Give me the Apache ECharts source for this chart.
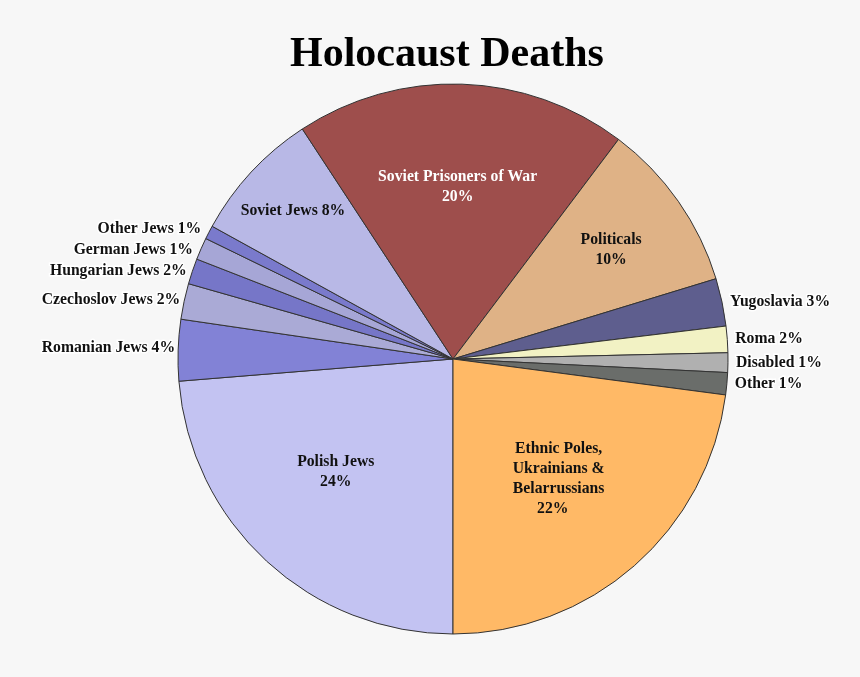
<!DOCTYPE html>
<html>
<head>
<meta charset="utf-8">
<script src="https://cdn.jsdelivr.net/npm/echarts@6/dist/echarts.min.js"></script>
<style>
html,body{margin:0;padding:0;background:#f7f7f7;}
#chart{width:860px;height:677px;}
</style>
</head>
<body>
<div id="chart"></div>
<script>
// ---- data ----
const categories = ['Polish Jews', 'Romanian Jews', 'Czechoslov Jews', 'Hungarian Jews', 'German Jews', 'Other Jews',
  'Soviet Jews', 'Soviet Prisoners of War', 'Politicals', 'Yugoslavia', 'Roma', 'Disabled', 'Other',
  'Ethnic Poles, Ukrainians & Belarrussians'];
const shares = [23.7, 3.6, 2.1, 1.5, 1.3, 0.8, 7.75, 19.5, 10.0, 2.8, 1.55, 1.15, 1.3, 22.9];
const percentLabels = ['24%', '4%', '2%', '2%', '1%', '1%', '8%', '20%', '10%', '3%', '2%', '1%', '1%', '22%'];
const labelTexts = ['Polish Jews\n24%', 'Romanian Jews 4%', 'Czechoslov Jews 2%', 'Hungarian Jews 2%', 'German Jews 1%',
  'Other Jews 1%', 'Soviet Jews 8%', 'Soviet Prisoners of War\n20%', 'Politicals\n10%', 'Yugoslavia 3%', 'Roma 2%',
  'Disabled 1%', 'Other 1%', 'Ethnic Poles,\nUkrainians &\nBelarrussians\n22%   '];

// ---- styles ----
const colors = ['#c3c3f2', '#8282d6', '#aaaad6', '#7676c8', '#a6a6d6', '#7a7acc', '#b8b8e6', '#9e4e4c',
  '#dfb286', '#5e5e8e', '#f2f2c4', '#b0b0b0', '#6a6d6a', '#ffb966'];
const insideLabels = {
  0: {offset: [-22, 10]},
  6: {offset: [-57, -53]},
  7: {offset: [0, -32], color: '#ffffff'},
  8: {offset: [43, -29]},
  13: {offset: [13, 14]}
};
const outsideOffsets = {1: [0, -2], 2: [0, -1], 3: [0, -1], 4: [0, -2], 5: [0, -2]};

const font = 'Liberation Serif, Times New Roman, serif';
const data = categories.map((name, i) => {
  const item = {name: name, value: shares[i], itemStyle: {color: colors[i]}};
  if (insideLabels[i]) {
    item.label = Object.assign({
      position: 'inside', textBorderWidth: 0, lineHeight: 20, align: 'center', color: '#111'
    }, insideLabels[i]);
  } else if (outsideOffsets[i]) {
    item.label = {offset: outsideOffsets[i]};
  }
  return item;
});

const chart = echarts.init(document.getElementById('chart'));
chart.setOption({
  backgroundColor: '#f7f7f7',
  animation: false,
  title: {
    text: 'Holocaust Deaths',
    left: 290, top: 34, padding: 0,
    textStyle: {fontFamily: font, fontWeight: 'bold', fontSize: 42, color: '#000'}
  },
  series: [{
    type: 'pie',
    center: [453, 359],
    radius: 275,
    startAngle: 270,
    clockwise: true,
    avoidLabelOverlap: true,
    emphasis: {disabled: true},
    itemStyle: {borderColor: '#333', borderWidth: 1},
    label: {
      show: true,
      position: 'outside',
      distanceToLabelLine: 5,
      fontFamily: font, fontWeight: 'bold', fontSize: 15.7, color: '#111',
      textBorderColor: '#ffffff', textBorderWidth: 3,
      formatter: p => labelTexts[p.dataIndex]
    },
    labelLine: {show: false, length: 3, length2: 0},
    data: data
  }]
});
</script>
</body>
</html>
